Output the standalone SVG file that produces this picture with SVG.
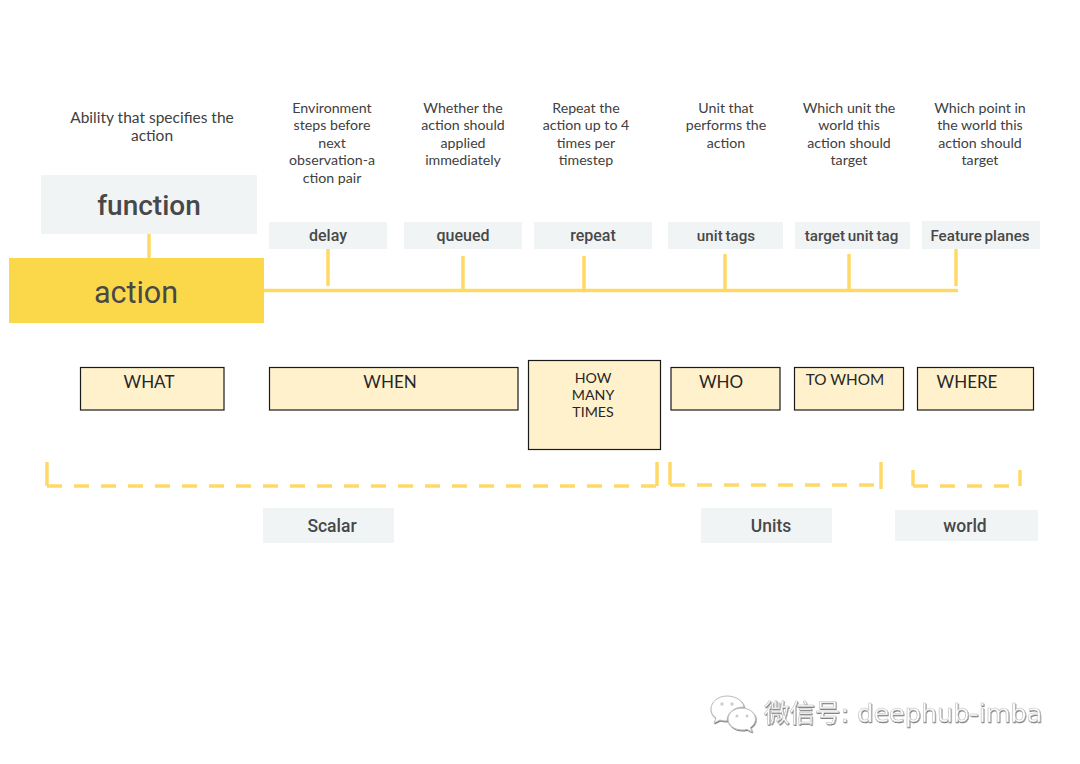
<svg xmlns="http://www.w3.org/2000/svg" width="1080" height="764" viewBox="0 0 1080 764">
<style>
.d{font-family:Lato,"Liberation Sans",sans-serif;font-size:14.200px;fill:#404040;text-anchor:middle}
.l{fill:#f1f4f5}
.t{font-family:Roboto,"Liberation Sans",sans-serif;font-weight:500;font-size:16px;fill:#484848;text-anchor:middle}
.n{font-size:15.200px;word-spacing:-1px}
.b{fill:#fff1cc;stroke:#1a1a1a;stroke-width:1.2}
.bt{font-family:Lato,"Liberation Sans",sans-serif;font-size:17px;fill:#262626;text-anchor:middle}
.c{stroke:#ffd966;stroke-width:3.500;fill:none}
.da{stroke-dasharray:15 12}
.wm{font-family:"DejaVu Sans","Noto Sans CJK SC",sans-serif;font-size:25.500px;fill:#fff;stroke:#bbb;stroke-width:.5;filter:url(#s)}
</style>
<defs><filter id="s" x="-5%" y="-20%" width="110%" height="140%"><feDropShadow dx="0.6" dy="1" stdDeviation="0.6" flood-color="#777"/></filter></defs>
<rect width="1080" height="764" fill="#fff"/>
<g id="connectors">
<path class="c" d="M149 234V258M264 290.500H958M328 249V286M463 256V290M584 256V290M725 254V290M849 254V290M956 249V286"/>
<path class="c" d="M47 462V486"/><path class="c da" d="M47 486H657"/><path class="c" d="M657 462V486"/>
<path class="c" d="M670 462V485"/><path class="c da" d="M670 485H876"/><path class="c" d="M881 462V489"/>
<path class="c" d="M913 470V486"/><path class="c da" d="M913 486H1010"/><path class="c" d="M1020 470V486"/>
</g>
<g id="desc-function"><text class="d" style="font-size:15.500px" x="152" y="123">Ability that specifies the</text><text class="d" style="font-size:15.500px" x="152" y="141">action</text></g>
<g id="desc-delay"><text class="d" x="332" y="113">Environment</text><text class="d" x="332" y="130">steps before</text><text class="d" x="332" y="148">next</text><text class="d" x="332" y="165">observation-a</text><text class="d" x="332" y="183">ction pair</text></g>
<g id="desc-queued"><text class="d" x="463" y="113">Whether the</text><text class="d" x="463" y="130">action should</text><text class="d" x="463" y="148">applied</text><text class="d" x="463" y="165">immediately</text></g>
<g id="desc-repeat"><text class="d" x="586" y="113">Repeat the</text><text class="d" x="586" y="130">action up to 4</text><text class="d" x="586" y="148">times per</text><text class="d" x="586" y="165">timestep</text></g>
<g id="desc-unit"><text class="d" x="726" y="113">Unit that</text><text class="d" x="726" y="130">performs the</text><text class="d" x="726" y="148">action</text></g>
<g id="desc-target"><text class="d" x="849" y="113">Which unit the</text><text class="d" x="849" y="130">world this</text><text class="d" x="849" y="148">action should</text><text class="d" x="849" y="165">target</text></g>
<g id="desc-feature"><text class="d" x="980" y="113">Which point in</text><text class="d" x="980" y="130">the world this</text><text class="d" x="980" y="148">action should</text><text class="d" x="980" y="165">target</text></g>
<g id="function"><rect class="l" x="41" y="175" width="216" height="59"/><text class="t" x="149" y="215" style="font-size:28px">function</text></g>
<g id="action"><rect x="9" y="258" width="255" height="65" fill="#fbd84a"/><text x="136" y="303" text-anchor="middle" font-family="Roboto,'Liberation Sans',sans-serif" font-size="30.500" fill="#484848">action</text></g>
<g id="delay"><rect class="l" x="269" y="222" width="118" height="27"/><text class="t" x="328" y="241">delay</text></g>
<g id="queued"><rect class="l" x="404" y="222" width="118" height="27"/><text class="t" x="463" y="241">queued</text></g>
<g id="repeat"><rect class="l" x="534" y="222" width="118" height="27"/><text class="t" x="593" y="241">repeat</text></g>
<g id="unit-tags"><rect class="l" x="668" y="222" width="115" height="27"/><text class="t n" x="726" y="241">unit tags</text></g>
<g id="target-unit-tag"><rect class="l" x="795" y="222" width="115" height="27"/><text class="t n" x="851.500" y="241">target unit tag</text></g>
<g id="feature-planes"><rect class="l" x="922" y="221" width="118" height="28"/><text class="t n" x="980" y="241">Feature planes</text></g>
<g id="what"><rect class="b" x="80.500" y="367.500" width="143.500" height="42.500"/><text class="bt" x="149" y="388">WHAT</text></g>
<g id="when"><rect class="b" x="269.500" y="367.500" width="248.500" height="42.500"/><text class="bt" x="390" y="388">WHEN</text></g>
<g id="how-many-times"><rect class="b" x="528.500" y="360.500" width="132" height="89"/><text class="bt" style="font-size:14.200px" x="593" y="383">HOW</text><text class="bt" style="font-size:14.200px" x="593" y="400">MANY</text><text class="bt" style="font-size:14.200px" x="593" y="417">TIMES</text></g>
<g id="who"><rect class="b" x="671" y="367.500" width="109" height="42.500"/><text class="bt" x="721" y="388">WHO</text></g>
<g id="to-whom"><rect class="b" x="794.500" y="367.500" width="109" height="42.500"/><text class="bt" style="font-size:15.300px" x="845" y="385">TO WHOM</text></g>
<g id="where"><rect class="b" x="917.500" y="367.500" width="116" height="42.500"/><text class="bt" x="967" y="388">WHERE</text></g>
<g id="scalar"><rect class="l" x="263" y="508" width="131" height="35"/><text class="t" style="font-size:17.500px" x="332" y="532">Scalar</text></g>
<g id="units"><rect class="l" x="701" y="508" width="131" height="35"/><text class="t" style="font-size:17.500px" x="771" y="532">Units</text></g>
<g id="world"><rect class="l" x="895" y="510" width="143" height="31"/><text class="t" style="font-size:17.500px" x="965" y="532">world</text></g>
<g id="watermark">
<g fill="#fff" stroke="#bbb" stroke-width="1" filter="url(#s)">
<path d="M727 696c-9 0-16 6-16 13 0 4 2 7 5 9l-2 5 6-3c2 .7 4 1 7 1 0-8 7-14 17-14-1-6-8-11-17-11z"/>
<path d="M742 708c-8 0-14 5-14 11s6 11 14 11c2 0 3 0 5-.6l5 2.600-1.500-4.500c3-2 5-5 5-8.500 0-6-6-11-14-11z"/>
<circle cx="722" cy="704" r="1.200"/><circle cx="732" cy="704" r="1.200"/><circle cx="737" cy="716" r="1"/><circle cx="747" cy="716" r="1"/>
</g>
<text class="wm" x="764" y="722">微信号: deephub-imba</text>
</g>
</svg>
